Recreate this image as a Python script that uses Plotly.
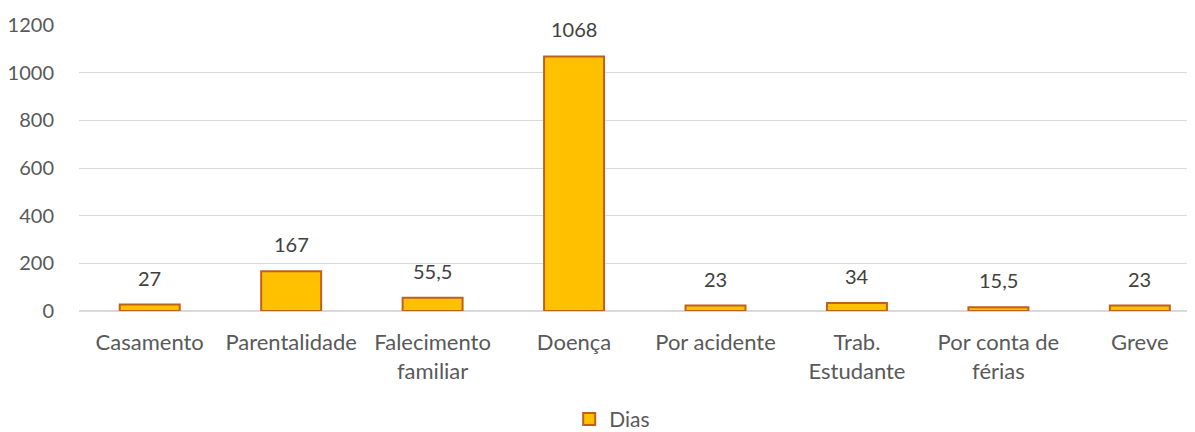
import plotly.graph_objects as go

#categories and values
CATEGORIES = [
    "Casamento", "Parentalidade", "Falecimento<br>familiar", "Doença",
    "Por acidente", "Trab.<br>Estudante", "Por conta de<br>férias", "Greve",
]
DIAS = [27, 167, 55.5, 1068, 23, 34, 15.5, 23]
Y_TICKS = [0, 200, 400, 600, 800, 1000, 1200]

FONT = "Lato"
TEXT_COLOR = "#595959"
GRID_COLOR = "#D9D9D9"

fig = go.Figure()

fig.add_trace(go.Bar(
    x=CATEGORIES,
    y=DIAS,
    name="Dias",
    width=0.424,
    marker=dict(color="#FFC000", line=dict(color="#C0601A", width=2)),
))

#data labels sit a bit higher above the bars than plotly's outside text
for cat, val in zip(CATEGORIES, DIAS):
    fig.add_annotation(
        x=cat, y=val,
        text=f"{val:g}".replace(".", ","),
        showarrow=False,
        yanchor="bottom",
        yshift=13,
        font=dict(family=FONT, size=20, color="#404040"),
    )

#page body has an 8px margin, so the figure is a bit smaller than the window
fig.update_layout(
    width=1187,
    height=424,
    paper_bgcolor="white",
    plot_bgcolor="white",
    margin=dict(l=71, r=0, t=17, b=121),
    font=dict(family=FONT, size=20, color=TEXT_COLOR),
    showlegend=True,
    legend=dict(
        orientation="h",
        xref="container", yref="container",
        x=0.509, xanchor="center",
        y=0.03, yanchor="middle",
        font=dict(family=FONT, size=21, color=TEXT_COLOR),
        itemwidth=30,
    ),
    xaxis=dict(
        range=[-0.5, 7.39],
        showgrid=False,
        showline=True,
        linecolor=GRID_COLOR,
        linewidth=1,
        automargin=False,
        ticklabelstandoff=12,
        tickfont=dict(family=FONT, size=22, color=TEXT_COLOR),
    ),
    yaxis=dict(
        range=[0, 1200],
        tickvals=Y_TICKS,
        showgrid=True,
        gridcolor=GRID_COLOR,
        zeroline=True,
        zerolinecolor=GRID_COLOR,
        ticks="",
        ticklabelstandoff=24,
        automargin=False,
        tickfont=dict(family=FONT, size=20, color=TEXT_COLOR),
    ),
)

fig.write_html("out.html")
